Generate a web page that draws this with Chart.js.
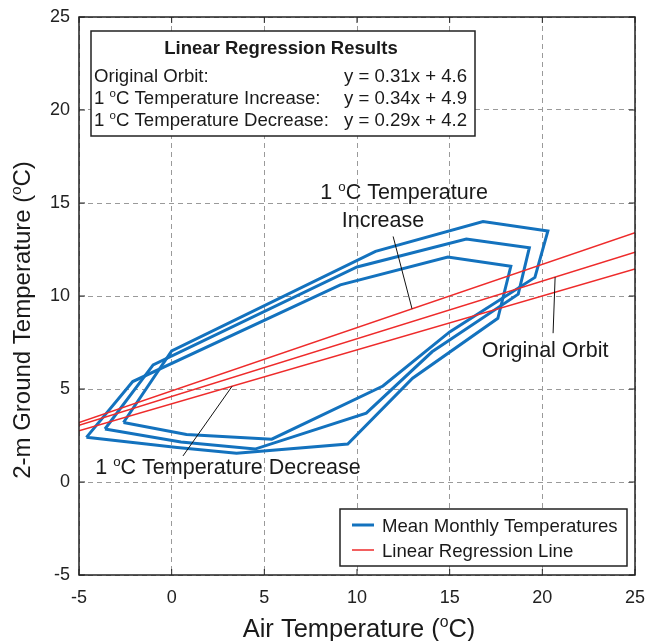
<!DOCTYPE html>
<html>
<head>
<meta charset="utf-8">
<script src="https://cdn.jsdelivr.net/npm/chart.js@4.4.0/dist/chart.umd.min.js"></script>
<style>
  html, body { margin: 0; padding: 0; background: #fff; }
  canvas { display: block; }
</style>
</head>
<body>
<canvas id="orbit" width="645" height="641"></canvas>
<script>
// Monthly mean air vs 2-m ground temperature, one closed loop per scenario
const increaseAir = [-2.6, 0.0, 11.0, 16.8, 20.3, 19.6, 15.0, 11.4, 5.4, 0.8, -2.6];
const increaseGround = [3.2, 7.05, 12.4, 14.0, 13.5, 11.0, 8.07, 5.16, 2.3, 2.55, 3.2];

const originalAir = [-3.6, -1.0, 10.0, 15.9, 19.3, 18.7, 14.05, 10.5, 4.5, 0.5, -3.6];
const originalGround = [2.85, 6.3, 11.56, 13.06, 12.6, 10.1, 7.0, 3.7, 1.77, 2.15, 2.85];

const decreaseAir = [-4.6, -2.1, 9.1, 14.9, 18.3, 17.6, 13.0, 9.5, 3.5, 0.3, -4.6];
const decreaseGround = [2.4, 5.4, 10.6, 12.1, 11.6, 8.8, 5.58, 2.04, 1.55, 1.85, 2.4];

// regression results, in the order they are listed in the results box
const fitNames = ['Original Orbit:', '1 ^oC Temperature Increase:', '1 ^oC Temperature Decrease:'];
const fitSlopes = [0.31, 0.34, 0.29];
const fitIntercepts = [4.6, 4.9, 4.2];

const axisTicks = [-5, 0, 5, 10, 15, 20, 25];
const legendLabels = ['Mean Monthly Temperatures', 'Linear Regression Line'];

const BLUE = '#1372be';
const RED = '#ee2b2b';
const INK = '#222';
const FONT = '"Liberation Sans", Arial, Helvetica, sans-serif';

function loopPoints(xs, ys) {
  return xs.map((x, i) => ({ x, y: ys[i] }));
}

function fitLine(slope, intercept) {
  const lo = axisTicks[0];
  const hi = axisTicks[axisTicks.length - 1];
  return [{ x: lo, y: slope * lo + intercept }, { x: hi, y: slope * hi + intercept }];
}

// split "1 ^oC" into plain / superscript runs
function runs(text) {
  return text.split(/\^(\w)/).map((t, i) => ({ t, sup: i % 2 === 1 })).filter((r) => r.t);
}

function richWidth(ctx, text, size, weight) {
  let w = 0;
  runs(text).forEach((r) => {
    ctx.font = `${weight || ''} ${r.sup ? size * 0.62 : size}px ${FONT}`;
    w += ctx.measureText(r.t).width;
  });
  return w;
}

function drawRich(ctx, text, x, y, size, align, weight) {
  const w = richWidth(ctx, text, size, weight);
  let cx = align === 'center' ? x - w / 2 : align === 'right' ? x - w : x;
  ctx.textBaseline = 'alphabetic';
  ctx.textAlign = 'left';
  const base = y + size * 0.36;
  runs(text).forEach((r) => {
    const s = r.sup ? size * 0.62 : size;
    ctx.font = `${weight || ''} ${s}px ${FONT}`;
    ctx.fillText(r.t, cx, r.sup ? base - size * 0.38 : base);
    cx += ctx.measureText(r.t).width;
  });
}

const decorations = {
  id: 'decorations',
  afterDraw(chart) {
    const { ctx, chartArea: a, scales: { x, y } } = chart;
    const px = (v) => x.getPixelForValue(v);
    const py = (v) => y.getPixelForValue(v);
    ctx.save();

    // axes frame with inward ticks
    ctx.strokeStyle = INK;
    ctx.lineWidth = 1.5;
    ctx.strokeRect(a.left, a.top, a.right - a.left, a.bottom - a.top);
    ctx.lineWidth = 1;
    ctx.beginPath();
    axisTicks.forEach((t) => {
      const tx = px(t);
      const ty = py(t);
      ctx.moveTo(tx, a.bottom); ctx.lineTo(tx, a.bottom - 6);
      ctx.moveTo(tx, a.top); ctx.lineTo(tx, a.top + 6);
      ctx.moveTo(a.left, ty); ctx.lineTo(a.left + 6, ty);
      ctx.moveTo(a.right, ty); ctx.lineTo(a.right - 6, ty);
    });
    ctx.stroke();

    // leader lines from the labels to the regression lines
    ctx.strokeStyle = '#111';
    ctx.lineWidth = 1;
    ctx.beginPath();
    ctx.moveTo(px(11.95), py(13.2)); ctx.lineTo(px(12.97), py(0.34 * 12.97 + 4.9));
    ctx.moveTo(px(20.69), py(0.31 * 20.69 + 4.6)); ctx.lineTo(px(20.58), py(8.0));
    ctx.moveTo(px(3.26), py(0.29 * 3.26 + 4.2)); ctx.lineTo(px(0.61), py(1.4));
    ctx.stroke();

    ctx.fillStyle = '#1a1a1a';
    drawRich(ctx, '1 ^oC Temperature', px(12.54), py(15.62), 21.5, 'center');
    drawRich(ctx, 'Increase', px(11.4), py(14.14), 21.5, 'center');
    drawRich(ctx, 'Original Orbit', px(20.15), py(7.15), 21.5, 'center');
    drawRich(ctx, '1 ^oC Temperature Decrease', px(3.04), py(0.86), 21.5, 'center');

    // regression results box
    const bx = a.left + 12, by = a.top + 14, bw = 384, bh = 105;
    ctx.fillStyle = '#fff';
    ctx.fillRect(bx, by, bw, bh);
    ctx.strokeStyle = INK;
    ctx.lineWidth = 1.5;
    ctx.strokeRect(bx, by, bw, bh);
    ctx.fillStyle = '#1a1a1a';
    drawRich(ctx, 'Linear Regression Results', bx + bw / 2 - 2, by + 16, 18.5, 'center', 'bold');
    fitNames.forEach((name, i) => {
      const rowY = by + 44 + i * 22;
      drawRich(ctx, name, bx + 3, rowY, 18.6, 'left');
      const eq = `y = ${fitSlopes[i].toFixed(2)}x + ${fitIntercepts[i].toFixed(1)}`;
      drawRich(ctx, eq, bx + 253, rowY, 18.6, 'left');
    });

    // legend, lower right corner
    const lw = 287, lh = 57;
    const lx = a.right - 8 - lw, ly = a.bottom - 9 - lh;
    ctx.fillStyle = '#fff';
    ctx.fillRect(lx, ly, lw, lh);
    ctx.strokeStyle = INK;
    ctx.lineWidth = 1.5;
    ctx.strokeRect(lx, ly, lw, lh);
    [[BLUE, 3], [RED, 1.5]].forEach(([color, width], i) => {
      const rowY = ly + 16 + i * 25;
      ctx.strokeStyle = color;
      ctx.lineWidth = width;
      ctx.beginPath();
      ctx.moveTo(lx + 12, rowY); ctx.lineTo(lx + 34, rowY);
      ctx.stroke();
      ctx.fillStyle = '#1a1a1a';
      drawRich(ctx, legendLabels[i], lx + 42, rowY, 18.6, 'left');
    });

    // axis titles
    drawRich(ctx, 'Air Temperature (^oC)', 359, 628, 25.5, 'center');
    ctx.translate(21, 320);
    ctx.rotate(-Math.PI / 2);
    drawRich(ctx, '2-m Ground Temperature (^oC)', 0, 0, 24, 'center');
    ctx.restore();
  }
};

const tickFont = { family: FONT, size: 18 };

new Chart(document.getElementById('orbit'), {
  type: 'scatter',
  data: {
    datasets: [
      ...fitSlopes.map((s, i) => ({
        label: 'fit ' + i,
        data: fitLine(s, fitIntercepts[i]),
        showLine: true,
        borderColor: RED,
        borderWidth: 1.5,
        pointRadius: 0,
        order: 0
      })),
      ...[[increaseAir, increaseGround], [originalAir, originalGround], [decreaseAir, decreaseGround]].map(([xs, ys], i) => ({
        label: 'loop ' + i,
        data: loopPoints(xs, ys),
        showLine: true,
        borderColor: BLUE,
        borderWidth: 3,
        pointRadius: 0,
        order: 1
      }))
    ]
  },
  options: {
    responsive: false,
    animation: false,
    events: [],
    layout: { padding: { top: 17, right: 10, left: 0, bottom: 0 } },
    plugins: { legend: { display: false }, tooltip: { enabled: false } },
    scales: {
      x: {
        type: 'linear',
        min: -5,
        max: 25,
        afterBuildTicks: (s) => { s.ticks = axisTicks.map((v) => ({ value: v })); },
        afterFit: (s) => { s.height = 66; s.paddingLeft = 0; s.paddingRight = 0; },
        ticks: { color: INK, font: tickFont, padding: 12, maxRotation: 0 },
        grid: { color: '#9a9a9a', lineWidth: 1, drawTicks: false, borderDash: [5, 4] },
        border: { display: false, dash: [5, 4] }
      },
      y: {
        type: 'linear',
        min: -5,
        max: 25,
        afterBuildTicks: (s) => { s.ticks = axisTicks.map((v) => ({ value: v })); },
        afterFit: (s) => { s.width = 79; s.paddingTop = 0; s.paddingBottom = 0; },
        ticks: { color: INK, font: tickFont, padding: 9 },
        grid: { color: '#9a9a9a', lineWidth: 1, drawTicks: false, borderDash: [5, 4] },
        border: { display: false, dash: [5, 4] }
      }
    }
  },
  plugins: [decorations]
});
</script>
</body>
</html>
